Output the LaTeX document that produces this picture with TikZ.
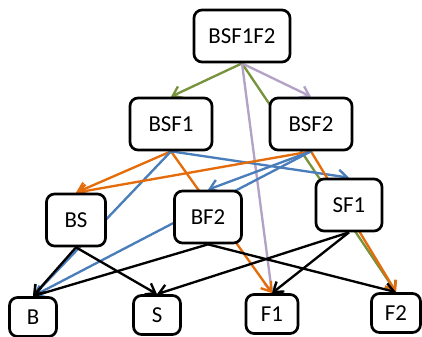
\documentclass[tikz,border=0pt]{standalone}
\usepackage{fontspec}
\setmainfont{Carlito}
\usetikzlibrary{arrows.meta,backgrounds}
\definecolor{cgreen}{HTML}{77933C}
\definecolor{cpurple}{HTML}{B3A2C7}
\definecolor{corange}{HTML}{E46C0A}
\definecolor{cblue}{HTML}{4A7EBB}
\tikzstyle{nd} = [rectangle,rounded corners=2.4mm,draw=black,line width=2.3pt,fill=white,minimum height=15.6mm,font=\fontsize{19.5}{23}\selectfont]
\tikzstyle{nl} = [nd,minimum height=11.7mm]
\tikzstyle{ed} = [->,>={Straight Barb[length=2.6mm,width=3.8mm]},line width=2pt]

\begin{document}
\begin{tikzpicture}[x=0.3mm,y=-0.3mm]
  \useasboundingbox (0,0) rectangle (422,336);
  % top
  \node[nd,minimum width=28.8mm](bsf1f2) at (242,36) {BSF1F2};
  % second row
  \node[nd,minimum width=24.6mm](bsf1) at (171,124) {BSF1};
  \node[nd,minimum width=24.6mm](bsf2) at (311,124) {BSF2};
  % third row
  \node[nd,minimum width=17.7mm](bs) at (76,220) {BS};
  \node[nd,minimum width=20.1mm](bf2) at (208,217) {BF2};
  \node[nd,minimum width=19.8mm](sf1) at (349,205) {SF1};
  % bottom row
  \node[nl,minimum width=14.1mm](b) at (33,317) {B};
  \node[nl,minimum width=14.1mm](s) at (157,315) {S};
  \node[nl,minimum width=15.6mm](f1) at (272,314) {F1};
  \node[nl,minimum width=14.7mm](f2) at (396,313) {F2};
  % edges behind the boxes
  \begin{scope}[on background layer]
    \draw[ed,cgreen] (bsf1f2.south) -- (bsf1.north);
    \draw[ed,cgreen] (bsf1f2.south) -- (f2.north);
    \draw[ed,cpurple] (bsf1f2.south) -- (bsf2.north);
    \draw[ed,cpurple] (bsf1f2.south) -- (f1.north);
    \draw[ed,corange] (bsf1.south) -- (bs.north);
    \draw[ed,corange] (bsf1.south) -- (f1.north);
    \draw[ed,cblue] (bsf1.south) -- (b.north);
    \draw[ed,cblue] (bsf1.south) -- (sf1.north);
    \draw[ed,corange] (bsf2.south) -- (bs.north);
    \draw[ed,corange] (bsf2.south) -- (f2.north);
    \draw[ed,cblue] (bsf2.south) -- (bf2.north);
    \draw[ed,cblue] (bsf2.south) -- (b.north);
    \draw[ed] (bs.south) -- (b.north);
    \draw[ed] (bs.south) -- (s.north);
    \draw[ed] (bf2.south) -- (b.north);
    \draw[ed] (bf2.south) -- (f2.north);
    \draw[ed] (sf1.south) -- (s.north);
    \draw[ed] (sf1.south) -- (f1.north);
  \end{scope}
\end{tikzpicture}
\end{document}
